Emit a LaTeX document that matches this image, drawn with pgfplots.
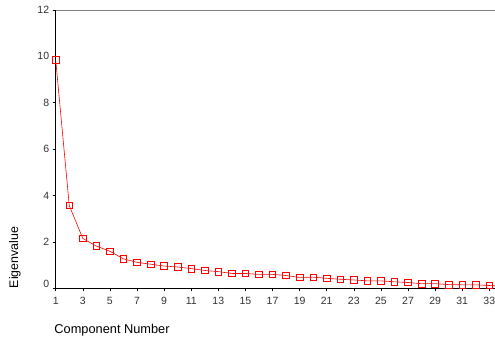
\documentclass[border=0pt]{standalone}
\usepackage{fontspec}
\setmainfont{Liberation Sans}
\usepackage{pgfplots}
\pgfplotsset{compat=1.18}
\begin{document}
\begin{tikzpicture}
\path[use as bounding box] (-55.7pt,-49.7pt) rectangle (439.3pt,288.3pt);
\begin{axis}[
  at={(0pt,0pt)}, anchor=origin,
  scale only axis, width=439.3pt, height=278.3pt,
  xmin=1, xmax=33.42, ymin=0, ymax=12,
  axis x line*=bottom, axis y line*=left,
  axis line style={black, line width=0.8pt},
  xtick={1,3,...,33}, ytick={2,4,...,12},
  extra y ticks={0},
  extra y tick style={yticklabel style={yshift=4.5pt}},
  tick align=outside, major tick length=3pt,
  tick style={black, line width=0.6pt},
  x axis line style={-}, y axis line style={-},
  /pgf/number format/assume math mode=true,
  ticklabel style={font=\fontsize{10.5}{12}\selectfont, text=black!80},
  xticklabel style={yshift=-2pt},
  clip=true,
]
\draw[gray, line width=0.8pt] (rel axis cs:0,1) -- (rel axis cs:1,1);
\addplot[red, line width=0.6pt, mark=square, mark size=3.3pt, mark options={solid, line width=0.7pt}] coordinates {
(1,9.85) (2,3.57) (3,2.15) (4,1.82) (5,1.60) (6,1.27) (7,1.12) (8,1.04) (9,0.96) (10,0.92)
(11,0.85) (12,0.77) (13,0.72) (14,0.64) (15,0.64) (16,0.60) (17,0.60) (18,0.55) (19,0.47) (20,0.48)
(21,0.43) (22,0.39) (23,0.36) (24,0.32) (25,0.32) (26,0.28) (27,0.25) (28,0.20) (29,0.20) (30,0.16)
(31,0.15) (32,0.15) (33,0.12) (34,0.10)
};
\end{axis}
\node[rotate=90, anchor=west, inner sep=0pt, font=\fontsize{12.4}{14}\selectfont] at (-40.7pt,0pt) {Eigenvalue};
\node[anchor=west, inner sep=0pt, font=\fontsize{12.8}{14}\selectfont] at (-1.5pt,-41.7pt) {Component Number};
\end{tikzpicture}
\end{document}
